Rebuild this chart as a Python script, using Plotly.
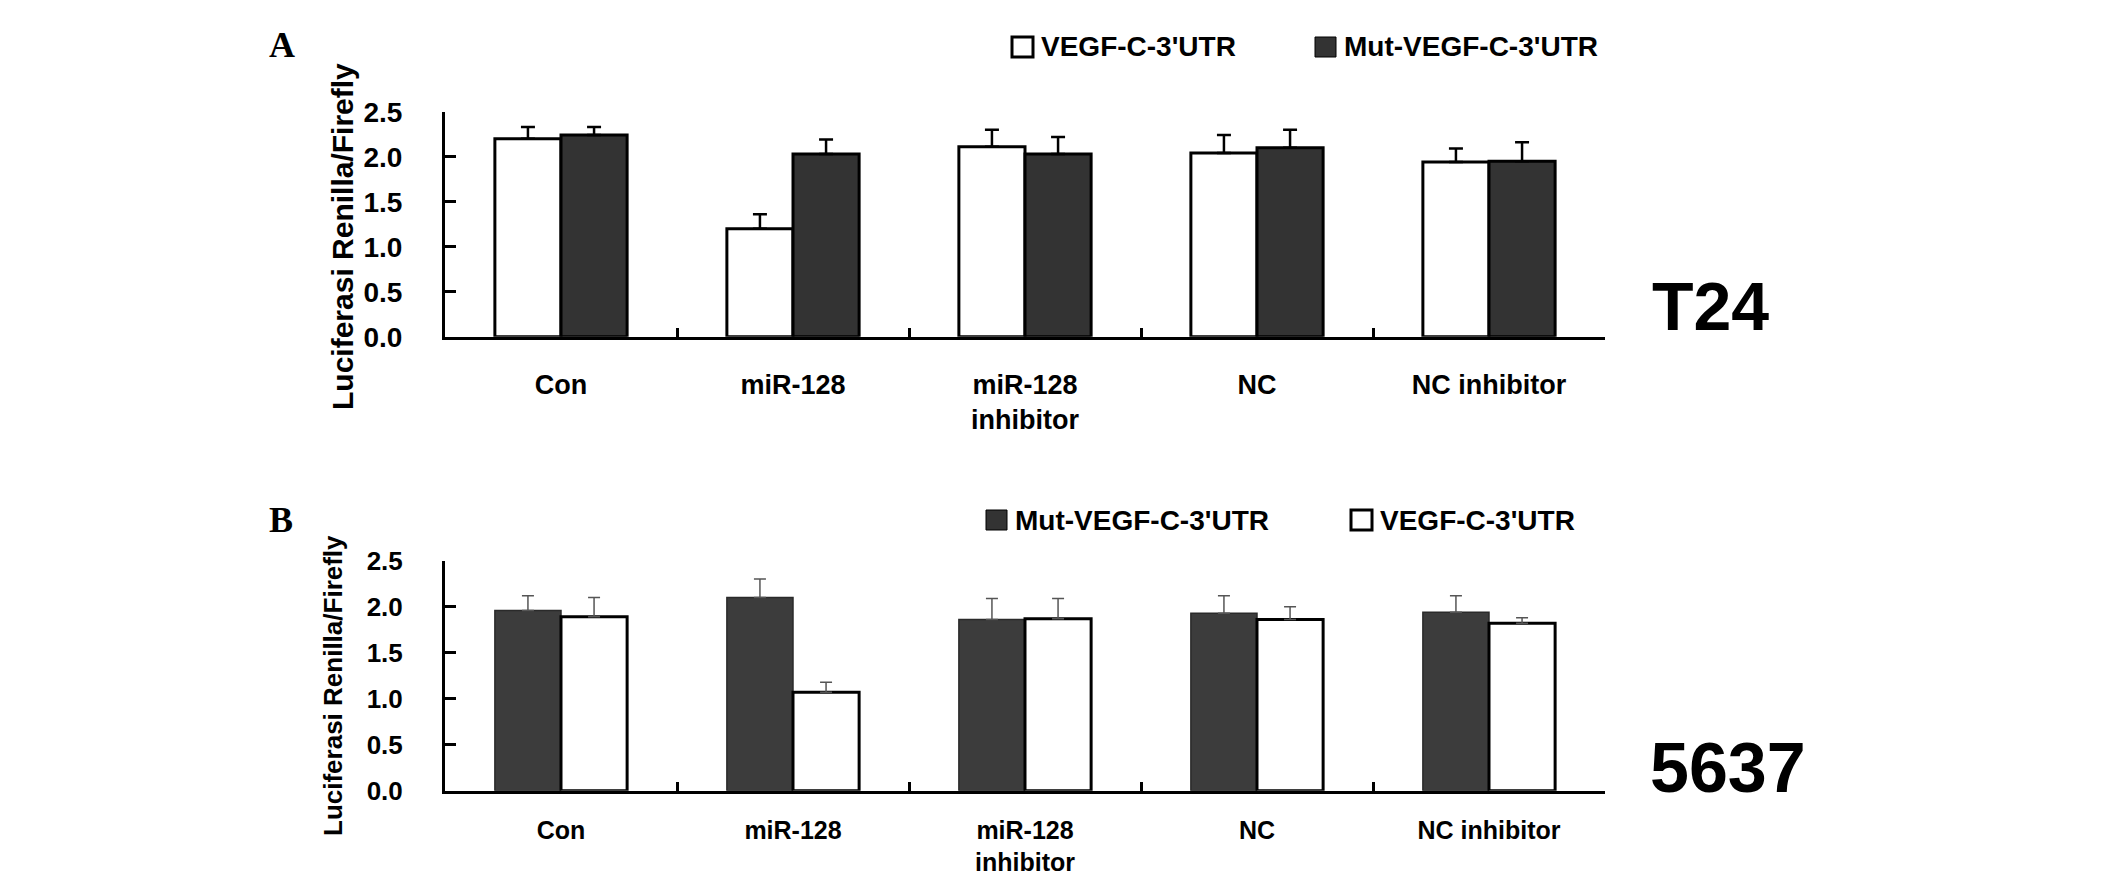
import plotly.graph_objects as go

# categories and values (Luciferase Renilla/Firefly)
categories = ["Con", "miR-128", "miR-128<br>inhibitor", "NC", "NC inhibitor"]

# panel A: T24
t24_wt = [2.20, 1.20, 2.11, 2.04, 1.94]
t24_wt_err = [0.13, 0.16, 0.19, 0.20, 0.15]
t24_mut = [2.24, 2.03, 2.03, 2.10, 1.95]
t24_mut_err = [0.09, 0.16, 0.19, 0.20, 0.21]

# panel B: 5637
c5637_mut = [1.96, 2.10, 1.86, 1.93, 1.94]
c5637_mut_err = [0.16, 0.20, 0.23, 0.19, 0.18]
c5637_wt = [1.89, 1.07, 1.87, 1.86, 1.82]
c5637_wt_err = [0.21, 0.11, 0.22, 0.14, 0.06]

y_ticks = [0.0, 0.5, 1.0, 1.5, 2.0, 2.5]

W, H = 2126, 894
OFF = 8  # page body margin
SANS = "Liberation Sans, Arial, sans-serif"
SERIF = "Liberation Serif, Times New Roman, serif"
DARK = "#333333"


def px(x):
    return (x - OFF) / W


def py(y):
    return 1 - (y - OFF) / H


def err(vals, color, thick, half):
    return dict(type="data", array=vals, arrayminus=[0] * len(vals), symmetric=False,
                color=color, thickness=thick, width=half, visible=True)


fig = go.Figure()

# ---- panel A (white first, then dark)
fig.add_trace(go.Bar(x=categories, y=t24_wt, name="VEGF-C-3'UTR", xaxis="x", yaxis="y",
                     marker=dict(color="white", line=dict(color="black", width=3)),
                     error_y=err(t24_wt_err, "black", 2.5, 7)))
fig.add_trace(go.Bar(x=categories, y=t24_mut, name="Mut-VEGF-C-3'UTR", xaxis="x", yaxis="y",
                     marker=dict(color=DARK, line=dict(color="black", width=3)),
                     error_y=err(t24_mut_err, "black", 2.5, 7)))

# ---- panel B (dark first, then white)
fig.add_trace(go.Bar(x=categories, y=c5637_mut, name="Mut-VEGF-C-3'UTR", xaxis="x2", yaxis="y2",
                     marker=dict(color="#3c3c3c", line=dict(color="#2a2a2a", width=1.5)),
                     error_y=err(c5637_mut_err, "#555555", 1.5, 6)))
fig.add_trace(go.Bar(x=categories, y=c5637_wt, name="VEGF-C-3'UTR", xaxis="x2", yaxis="y2",
                     marker=dict(color="white", line=dict(color="black", width=3)),
                     error_y=err(c5637_wt_err, "#555555", 1.5, 6)))

xdom = [px(445), px(1605)]


def xaxis(anchor, size, standoff):
    return dict(domain=xdom, anchor=anchor, type="category", showline=True, linecolor="black",
                linewidth=3, ticks="inside", tickson="boundaries", ticklen=9, tickwidth=3,
                tickcolor="black", ticklabelstandoff=standoff, showgrid=False, zeroline=False,
                automargin=False,
                tickfont=dict(family=SANS, size=size, color="black", weight="bold"))


def yaxis(anchor, dom, size):
    return dict(domain=dom, anchor=anchor, range=[0, 2.5], tickvals=y_ticks,
                ticktext=[f"{v:.1f}" for v in y_ticks], showline=True, linecolor="black",
                linewidth=3, ticks="inside", ticklen=11, tickwidth=3, tickcolor="black",
                ticklabelstandoff=34, showgrid=False, zeroline=False, automargin=False,
                tickfont=dict(family=SANS, size=size, color="black", weight="bold"))


fig.update_layout(
    template="none",
    width=W, height=H,
    margin=dict(l=0, r=0, t=0, b=0, pad=0, autoexpand=False),
    paper_bgcolor="white", plot_bgcolor="white",
    showlegend=False,
    barmode="group", bargap=0.43, bargroupgap=0,
    xaxis=xaxis("y", 27, 22),
    yaxis=yaxis("x", [py(336.7), py(111.7)], 28),
    xaxis2=xaxis("y2", 25, 15),
    yaxis2=yaxis("x2", [py(790.7), py(560.7)], 26),
)

annotations = []
shapes = []


def label(text, x, y, size, family=SANS, angle=0, xanchor="center"):
    annotations.append(dict(text=text, x=px(x), y=py(y), xref="paper", yref="paper",
                            xanchor=xanchor, yanchor="middle", showarrow=False, textangle=angle,
                            font=dict(family=family, size=size, color="black", weight="bold")))


def legend_item(text, x_box, y_mid, fill):
    shapes.append(dict(type="rect", xref="paper", yref="paper",
                       x0=px(x_box), x1=px(x_box + 21), y0=py(y_mid + 10), y1=py(y_mid - 10),
                       fillcolor=fill, line=dict(color="black", width=3 if fill == "white" else 1)))
    label(text, x_box + 27, y_mid, 28, xanchor="left")


# panel letters, y titles, cell line names
label("A", 282, 45, 36, family=SERIF)
label("B", 281, 520, 36, family=SERIF)
label("Luciferasi Renilla/Firefly", 343, 237, 30, angle=-90)
label("Luciferasi Renilla/Firefly", 333, 686, 26, angle=-90)
label("T24", 1710, 306, 68)
label("5637", 1728, 768, 70)

# legends
legend_item("VEGF-C-3'UTR", 1012, 47, "white")
legend_item("Mut-VEGF-C-3'UTR", 1315, 47, DARK)
legend_item("Mut-VEGF-C-3'UTR", 986, 520, DARK)
legend_item("VEGF-C-3'UTR", 1351, 520, "white")

fig.update_layout(annotations=annotations, shapes=shapes)

fig.write_html("out.html")
